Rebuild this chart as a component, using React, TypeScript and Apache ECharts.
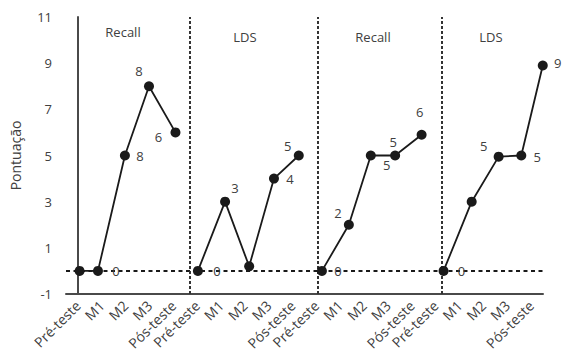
import React, { useEffect, useRef } from "react";
import * as echarts from "echarts";

const categories = [
  "Pré-teste", "M1", "M2", "M3", "Pós-teste",
  "Pré-teste", "M1", "M2", "M3", "Pós-teste",
  "Pré-teste", "M1", "M2", "M3", "Pós-teste",
  "Pré-teste", "M1", "M2", "M3", "Pós-teste",
];
const yTickLabels = ["-1", "1", "3", "5", "7", "9", "11"];
const panelTitles = ["Recall", "LDS", "Recall", "LDS"];

// x position of each point, in category-index units
const panel1X = [0.07, 0.84, 1.97, 2.98, 4.09];
const panel2X = [5.03, 6.17, 7.18, 8.22, 9.26];
const panel3X = [10.23, 11.36, 12.28, 13.3, 14.41];
const panel4X = [15.33, 16.51, 17.64, 18.59, 19.49];

const panel1Values = [0, 0, 5, 8, 6];
const panel2Values = [0, 3, 0.2, 4, 5];
const panel3Values = [0, 2, 5, 5, 5.9];
const panel4Values = [0, 3, 4.95, 5, 8.9];

const panel1Labels = [null, "0", "8", "8", "6"];
const panel2Labels = ["0", "3", null, "4", "5"];
const panel3Labels = ["0", "2", "5", "5", "6"];
const panel4Labels = ["0", null, "5", "5", "9"];

const dividerX = [4.68, 10.04, 15.27];

// styling: label offsets around each point
const panel1Offsets = [[0, 0], [18, 0], [15, 0], [-10, -15], [-17, 5]];
const panel2Offsets = [[19, 0], [10, -14], [0, 0], [16, 0], [-11, -10]];
const panel3Offsets = [[16, 0], [-11, -12], [16, 9], [-2, -14], [-2, -23]];
const panel4Offsets = [[18, 0], [0, 0], [-15, -11], [16, 1], [15, -2]];

const titlePos = [[123, 32], [245, 37], [373, 37], [491, 37]];

export default function App() {
  const ref = useRef<HTMLDivElement>(null);
  useEffect(() => {
    if (!ref.current) return;
    const chart = echarts.init(ref.current, undefined, { renderer: "svg" });
    const font = "'Open Sans', 'Noto Sans', sans-serif";
    const textColor = "#404040";
    const panels = [
      [panel1X, panel1Values, panel1Labels, panel1Offsets],
      [panel2X, panel2Values, panel2Labels, panel2Offsets],
      [panel3X, panel3Values, panel3Labels, panel3Offsets],
      [panel4X, panel4Values, panel4Labels, panel4Offsets],
    ] as any[];
    const series: any[] = panels.map((p, k) => ({
      type: "line",
      xAxisIndex: 1,
      yAxisIndex: 1,
      clip: false,
      symbol: "circle",
      symbolSize: 10,
      itemStyle: { color: "#1a1a1a" },
      lineStyle: { color: "#1a1a1a", width: 1.8 },
      z: 5,
      data: p[0].map((x: number, i: number) => ({
        value: [x, p[1][i]],
        label: {
          show: p[2][i] !== null,
          formatter: p[2][i] ?? "",
          position: "inside",
          offset: p[3][i],
          align: "center",
          verticalAlign: "middle",
          color: textColor,
          textBorderWidth: 0,
          textBorderColor: "transparent",
          fontSize: 13,
          fontFamily: font,
        },
      })),
      markLine:
        k === 0
          ? {
              silent: true,
              symbol: "none",
              label: { show: false },
              animation: false,
              data: [
                {
                  yAxis: 0,
                  lineStyle: { type: [4, 3.5], color: "#1a1a1a", width: 2 },
                },
                ...dividerX.map((x) => ({
                  xAxis: x,
                  lineStyle: { type: [3, 2], color: "#333333", width: 2 },
                })),
              ],
            }
          : undefined,
    }));
    chart.setOption({
      animation: false,
      backgroundColor: "#ffffff",
      grid: { left: 62, right: 24, top: 17, bottom: 69, containLabel: false },
      xAxis: [
        {
          type: "category",
          data: categories,
          boundaryGap: true,
          axisLine: { show: true, lineStyle: { color: "#4a4a4a", width: 2 } },
          axisTick: { show: false },
          axisLabel: {
            rotate: 45,
            interval: 0,
            color: textColor,
            fontSize: 14,
            fontFamily: font,
            margin: 9,
          },
          splitLine: { show: false },
        },
        {
          type: "value",
          min: -0.5,
          max: 19.5,
          show: false,
          splitLine: { show: false },
        },
      ],
      yAxis: [
        {
          type: "value",
          min: 0,
          max: 12,
          interval: 2,
          name: "Pontuação",
          nameLocation: "middle",
          nameGap: 44,
          nameTextStyle: { color: textColor, fontSize: 14, fontFamily: font },
          axisLine: { show: true, lineStyle: { color: "#4a4a4a", width: 2 } },
          axisTick: { show: false },
          axisLabel: {
            color: textColor,
            fontSize: 13,
            fontFamily: font,
            margin: 14,
            formatter: (v: number) => yTickLabels[Math.round(v / 2)] ?? "",
          },
          splitLine: { show: false },
        },
        {
          type: "value",
          min: -1,
          max: 11,
          show: false,
          splitLine: { show: false },
        },
      ],
      graphic: panelTitles.map((t, i) => ({
        type: "text",
        x: titlePos[i][0],
        y: titlePos[i][1],
        style: {
          text: t,
          fill: textColor,
          fontSize: 13,
          fontFamily: font,
          align: "center",
          verticalAlign: "middle",
        },
      })),
      series,
    });
    return () => chart.dispose();
  }, []);
  return (
    <div
      ref={ref}
      style={{ position: "fixed", left: 0, top: 0, width: 567, height: 363 }}
    />
  );
}
